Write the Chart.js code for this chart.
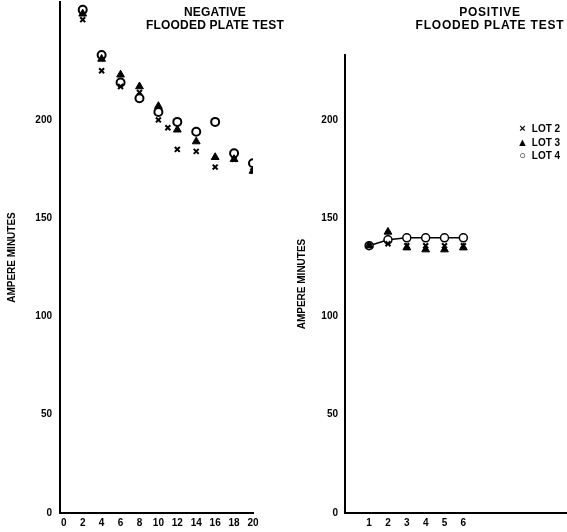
<!DOCTYPE html>
<html>
<head>
<meta charset="utf-8">
<script src="https://cdn.jsdelivr.net/npm/chart.js@4/dist/chart.umd.min.js"></script>
<style>
  body { margin: 0; background: #fff; width: 567px; height: 532px; position: relative; overflow: hidden;
         font-family: "Liberation Sans", Arial, sans-serif; font-weight: bold; color: #000; }
  #neg { position: absolute; left: 0; top: 0; }
  #pos { position: absolute; left: 290px; top: 0; }
  .title { position: absolute; text-align: center; font-size: 12px; line-height: 13px; white-space: nowrap; }
  .legend { position: absolute; left: 516px; top: 122px; font-size: 10px; line-height: 12.5px; }
  .legend span { display: inline-block; width: 13px; text-align: center; font-size: 11px; }
</style>
</head>
<body>
<canvas id="neg" width="290" height="532"></canvas>
<canvas id="pos" width="277" height="532"></canvas>

<div class="title" style="left:140px;top:6px;width:150px;letter-spacing:0.2px">NEGATIVE<br>FLOODED PLATE TEST</div>
<div class="title" style="left:410px;top:6px;width:160px;letter-spacing:0.8px">POSITIVE<br>FLOODED PLATE TEST</div>

<div class="legend">
  <div><span>×</span> LOT 2</div>
  <div><span>▲</span> LOT 3</div>
  <div><span>○</span> LOT 4</div>
</div>

<script>
// negative plate test (x = cycle)
const negXLot2 = [2, 4, 6, 8, 10, 11, 12, 14, 16, 18, 20];
const negLot2  = [251, 225, 217, 214, 200, 196, 185, 184, 176, 180, 174];
const negX     = [2, 4, 6, 8, 10, 12, 14, 16, 18, 20];
const negLot3  = [254, 231, 223, 217, 207, 195, 189, 181, 180, 174];
const negLot4  = [256, 233, 219, 211, 204, 199, 194, 199, 183, 178];

// positive plate test
const posX    = [1, 2, 3, 4, 5, 6];
const posLot2 = [136, 137, 136, 136, 136, 136];
const posLot3 = [136, 143, 135, 134, 134, 135];
const posLot4 = [136, 139, 140, 140, 140, 140];

const yTicks   = [0, 50, 100, 150, 200];
const negTicks = [0, 2, 4, 6, 8, 10, 12, 14, 16, 18, 20];
const posTicks = [1, 2, 3, 4, 5, 6];

const pts = (xs, ys) => xs.map((x, i) => ({ x: x, y: ys[i] }));
const font = { family: '"Liberation Sans", Arial, sans-serif', weight: 'bold', size: 10 };

const lot2Style = { pointStyle: 'crossRot', pointRadius: 3.5, borderWidth: 2, borderColor: '#000', backgroundColor: '#000' };
const lot3Style = { pointStyle: 'triangle', pointRadius: 4.5, borderWidth: 1, borderColor: '#000', backgroundColor: '#000' };
const lot4Style = { pointStyle: 'circle', pointRadius: 4, borderWidth: 2, borderColor: '#000', backgroundColor: '#fff' };

function makeScales(xMin, xMax, xTicks, yMax, yWidth, yPad, titlePad) {
    return {
        x: {
            type: 'linear', min: xMin, max: xMax,
            grid: { display: false, drawTicks: false },
            border: { color: '#000', width: 2 },
            ticks: { color: '#000', font: font, padding: 4, maxRotation: 0 },
            afterBuildTicks: axis => { axis.ticks = xTicks.map(v => ({ value: v })); },
            afterFit: axis => { axis.height = 19; axis.paddingLeft = 0; axis.paddingRight = 0; }
        },
        y: {
            type: 'linear', min: 0, max: yMax,
            grid: { display: false, drawTicks: false },
            border: { color: '#000', width: 2 },
            ticks: { color: '#000', font: font, padding: yPad },
            title: { display: true, text: 'AMPERE MINUTES', color: '#000', font: font, padding: titlePad },
            afterBuildTicks: axis => { axis.ticks = yTicks.map(v => ({ value: v })); },
            afterFit: axis => { axis.width = yWidth; axis.paddingTop = 0; axis.paddingBottom = 0; }
        }
    };
}

const baseOptions = {
    responsive: false,
    animation: false,
    plugins: { legend: { display: false }, tooltip: { enabled: false } }
};

new Chart(document.getElementById('neg'), {
    type: 'scatter',
    data: {
        datasets: [
            Object.assign({ label: 'LOT 2', data: pts(negXLot2, negLot2) }, lot2Style),
            Object.assign({ label: 'LOT 3', data: pts(negX, negLot3) }, lot3Style),
            Object.assign({ label: 'LOT 4', data: pts(negX, negLot4) }, lot4Style)
        ]
    },
    options: Object.assign({}, baseOptions, {
        layout: { autoPadding: false, padding: { top: 2, right: 37, left: 0, bottom: 0 } },
        scales: makeScales(-0.4, 20, negTicks, 260, 60, 8, { top: 6, bottom: 0 })
    })
});

new Chart(document.getElementById('pos'), {
    type: 'scatter',
    data: {
        datasets: [
            Object.assign({ label: 'LOT 2', data: pts(posX, posLot2) }, lot2Style),
            Object.assign({ label: 'LOT 3', data: pts(posX, posLot3) }, lot3Style),
            Object.assign({ label: 'LOT 4', data: pts(posX, posLot4), showLine: true }, lot4Style, { borderWidth: 1.5 })
        ]
    },
    options: Object.assign({}, baseOptions, {
        layout: { autoPadding: false, padding: { top: 55, right: 0, left: 0, bottom: 0 } },
        scales: makeScales(-0.28, 11.5, posTicks, 233, 55, 7, { top: 6, bottom: 0 })
    })
});
</script>
</body>
</html>
